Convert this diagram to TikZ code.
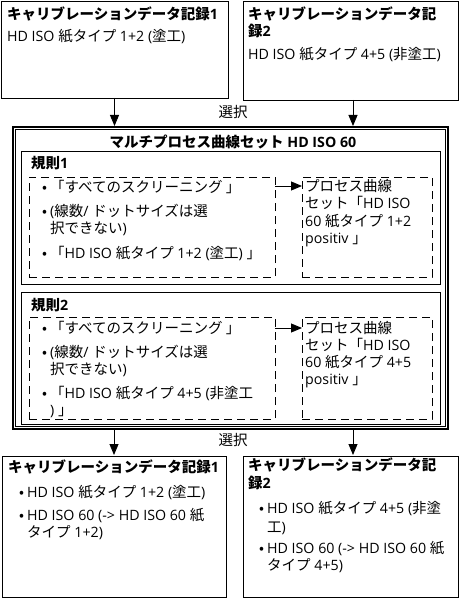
\documentclass[tikz,border=0pt]{standalone}
\usepackage{fontspec}
\setmainfont{Noto Sans CJK JP}
\newfontfamily\latfont{Open Sans}[Scale=0.98]
\newcommand\Lt[1]{{\latfont #1}}
\usetikzlibrary{arrows.meta,calc}
\begin{document}
\begin{tikzpicture}[x=1pt,y=-1pt,
  box/.style={draw, line width=0.9pt, anchor=north west, inner sep=0pt, outer sep=0pt},
  dbox/.style={box, dash pattern=on 8pt off 5pt},
  txt/.style={anchor=base west, inner sep=0pt, font=\fontsize{14.5}{17}\selectfont},
  btxt/.style={txt, font=\fontsize{14.5}{17}\selectfont\bfseries},
  arr/.style={line width=0.9pt, -{Triangle[length=11pt,width=9pt]}, shorten >=1pt}]
\useasboundingbox (0,0) rectangle (461,599);

% top boxes
\node[box, minimum width=227pt, minimum height=97pt] (tl) at (1,1) {};
\node[btxt] (tl1) at (7,20) {キャリブレーションデータ記録\Lt{1}};
\node[txt] (tl2) at (7,42) {\Lt{HD ISO }紙タイプ\Lt{ 1+2 (}塗工\Lt{)}};

\node[box, minimum width=215pt, minimum height=99pt] (tr) at (243,1) {};
\node[btxt] (tr1) at (248,20) {キャリブレーションデータ記};
\node[btxt] (tr2) at (248,37) {録\Lt{2}};
\node[txt] (tr3) at (248,60) {\Lt{HD ISO }紙タイプ\Lt{ 4+5 (}非塗工\Lt{)}};

\node[txt, anchor=center] (sel1) at (233,112) {選択};

% outer box
\node[box, line width=1.6pt, minimum width=435pt, minimum height=302pt] (outer) at (13,127) {};
\draw[line width=0.8pt] ($(outer.north west)+(2.6,2.6)$) rectangle ($(outer.south east)+(-2.6,-2.6)$);
\node[btxt, anchor=center] (title) at (233,142) {マルチプロセス曲線セット\Lt{ HD ISO 60}};

% rule 1
\node[box, minimum width=419pt, minimum height=133pt] (r1) at (21,151) {};
\node[btxt] (r1t) at (31,168) {規則\Lt{1}};
\node[dbox, minimum width=246pt, minimum height=100pt] (r1a) at (29,177) {};
\node[dbox, minimum width=130pt, minimum height=100pt] (r1b) at (302,177) {};
\node[txt] (r1b1) at (42,192) {•};
\node[txt] (r1a1) at (50,192) {「すべてのスクリーニング 」};
\node[txt] (r1b2) at (42,216) {•};
\node[txt] (r1a2) at (50,216) {\Lt{(}線数\Lt{/ }ドットサイズは選};
\node[txt] (r1a3) at (50,233) {択できない\Lt{)}};
\node[txt] (r1b3) at (42,258) {•};
\node[txt] (r1a4) at (50,258) {「\Lt{HD ISO }紙タイプ\Lt{ 1+2 (}塗工\Lt{) }」};
\node[txt] (r1c1) at (305,191) {プロセス曲線};
\node[txt] (r1c2) at (305,208) {セット「\Lt{HD ISO}};
\node[txt] (r1c3) at (305,226) {\Lt{60 }紙タイプ\Lt{ 1+2}};
\node[txt] (r1c4) at (305,243) {\Lt{positiv }」};
\draw[arr, shorten >=0pt] ($(r1a.north east)+(0,9)$) -- ($(r1b.north west)+(0,9)$);

% rule 2
\node[box, minimum width=419pt, minimum height=132pt] (r2) at (21,292) {};
\node[btxt] (r2t) at (31,310) {規則\Lt{2}};
\node[dbox, minimum width=246pt, minimum height=102pt] (r2a) at (29,317) {};
\node[dbox, minimum width=130pt, minimum height=102pt] (r2b) at (302,317) {};
\node[txt] (r2b1) at (42,333) {•};
\node[txt] (r2a1) at (50,333) {「すべてのスクリーニング 」};
\node[txt] (r2b2) at (42,357) {•};
\node[txt] (r2a2) at (50,357) {\Lt{(}線数\Lt{/ }ドットサイズは選};
\node[txt] (r2a3) at (50,374) {択できない\Lt{)}};
\node[txt] (r2b3) at (42,398) {•};
\node[txt] (r2a4) at (50,398) {「\Lt{HD ISO }紙タイプ\Lt{ 4+5 (}非塗工};
\node[txt] (r2a5) at (50,415) {\Lt{) }」};
\node[txt] (r2c1) at (305,333) {プロセス曲線};
\node[txt] (r2c2) at (305,350) {セット「\Lt{HD ISO}};
\node[txt] (r2c3) at (305,367) {\Lt{60 }紙タイプ\Lt{ 4+5}};
\node[txt] (r2c4) at (305,384) {\Lt{positiv }」};
\draw[arr, shorten >=0pt] ($(r2a.north east)+(0,11)$) -- ($(r2b.north west)+(0,11)$);

% bottom boxes
\node[box, minimum width=224pt, minimum height=141pt] (bl) at (2,456) {};
\node[btxt] (bl1) at (8,472) {キャリブレーションデータ記録\Lt{1}};
\node[txt] (blb1) at (19,497) {•};
\node[txt] (bl2) at (27,497) {\Lt{HD ISO }紙タイプ\Lt{ 1+2 (}塗工\Lt{)}};
\node[txt] (blb2) at (19,520) {•};
\node[txt] (bl3) at (27,520) {\Lt{HD ISO 60 (-> HD ISO 60 }紙};
\node[txt] (bl4) at (27,537) {タイプ\Lt{ 1+2)}};

\node[box, minimum width=215pt, minimum height=141pt] (br) at (243,456) {};
\node[btxt] (br1) at (248,470) {キャリブレーションデータ記};
\node[btxt] (br2) at (248,488) {録\Lt{2}};
\node[txt] (brb1) at (259,513) {•};
\node[txt] (br3) at (267,513) {\Lt{HD ISO }紙タイプ\Lt{ 4+5 (}非塗};
\node[txt] (br4) at (267,532) {工\Lt{)}};
\node[txt] (brb2) at (259,553) {•};
\node[txt] (br5) at (267,553) {\Lt{HD ISO 60 (-> HD ISO 60 }紙};
\node[txt] (br6) at (267,570) {タイプ\Lt{ 4+5)}};

\node[txt, anchor=center] (sel2) at (233,440) {選択};

% arrows
\coordinate (trs) at ($(tr.south)+(2.5,0)$);
\coordinate (brn) at ($(br.north)+(2.5,0)$);
\draw[arr] (tl.south) -- (tl.south |- outer.north);
\draw[arr] (trs) -- (trs |- outer.north);
\draw[arr] (bl.north |- outer.south) -- (bl.north);
\draw[arr] (brn |- outer.south) -- (brn);
\end{tikzpicture}
\end{document}
